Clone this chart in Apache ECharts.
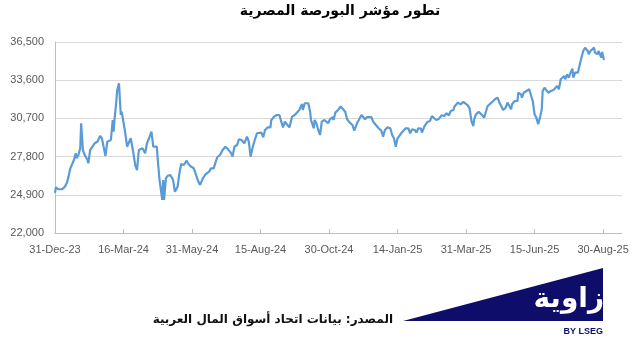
<!DOCTYPE html>
<html>
<head>
<meta charset="utf-8">
<script src="https://cdn.jsdelivr.net/npm/echarts@6/dist/echarts.min.js"></script>
<style>
html,body{margin:0;padding:0;background:#fff;}
#chart{width:642px;height:345px;}
</style>
</head>
<body>
<div id="chart"></div>
<script>
// ---- data ----
const titleText = 'تطور مؤشر البورصة المصرية';
const sourceText = 'المصدر: بيانات اتحاد أسواق المال العربية';
const yTicks = [22000, 24900, 27800, 30700, 33600, 36500];
const xTickDates = ['2023-12-31','2024-03-16','2024-05-31','2024-08-15','2024-10-30','2025-01-14','2025-03-31','2025-06-15','2025-08-30'];
const dates = [
'2023-12-31','2024-01-01','2024-01-04','2024-01-08','2024-01-11','2024-01-13','2024-01-15','2024-01-17','2024-01-19','2024-01-21',
'2024-01-23','2024-01-24','2024-01-26','2024-01-28','2024-01-29','2024-01-31','2024-02-02','2024-02-05','2024-02-06','2024-02-08',
'2024-02-10','2024-02-13','2024-02-16','2024-02-19','2024-02-21','2024-02-23','2024-02-25','2024-02-27','2024-02-29','2024-03-02',
'2024-03-04','2024-03-05','2024-03-06','2024-03-08','2024-03-09','2024-03-11','2024-03-12','2024-03-13','2024-03-14','2024-03-16',
'2024-03-18','2024-03-20','2024-03-22','2024-03-24','2024-03-25','2024-03-27','2024-03-29','2024-03-31','2024-04-02','2024-04-04',
'2024-04-06','2024-04-07','2024-04-09','2024-04-11','2024-04-14','2024-04-16','2024-04-17','2024-04-18','2024-04-20','2024-04-22',
'2024-04-23','2024-04-25','2024-04-27','2024-04-28','2024-04-29','2024-04-30','2024-05-02','2024-05-04','2024-05-07','2024-05-10',
'2024-05-12','2024-05-13','2024-05-15','2024-05-17','2024-05-19','2024-05-22','2024-05-24','2024-05-25','2024-05-27','2024-05-30',
'2024-06-02','2024-06-04','2024-06-07','2024-06-09','2024-06-12','2024-06-15','2024-06-19','2024-06-21','2024-06-24','2024-06-26',
'2024-06-28','2024-07-01','2024-07-04','2024-07-07','2024-07-10','2024-07-13','2024-07-15','2024-07-17','2024-07-20','2024-07-22',
'2024-07-25','2024-07-28','2024-07-31','2024-08-02','2024-08-04','2024-08-06','2024-08-08','2024-08-11','2024-08-13','2024-08-16',
'2024-08-18','2024-08-20','2024-08-23','2024-08-26','2024-08-27','2024-08-30','2024-09-02','2024-09-05','2024-09-07','2024-09-09',
'2024-09-11','2024-09-13','2024-09-16','2024-09-19','2024-09-22','2024-09-24','2024-09-27','2024-09-29','2024-09-30','2024-10-01',
'2024-10-03','2024-10-05','2024-10-07','2024-10-09','2024-10-10','2024-10-13','2024-10-14','2024-10-16','2024-10-18','2024-10-20',
'2024-10-22','2024-10-25','2024-10-27','2024-10-29','2024-10-31','2024-11-03','2024-11-04','2024-11-06','2024-11-09','2024-11-12',
'2024-11-14','2024-11-17','2024-11-19','2024-11-22','2024-11-25','2024-11-27','2024-11-30','2024-12-02','2024-12-05','2024-12-07',
'2024-12-09','2024-12-11','2024-12-13','2024-12-16','2024-12-18','2024-12-21','2024-12-24','2024-12-27','2024-12-29','2024-12-31',
'2025-01-03','2025-01-06','2025-01-08','2025-01-10','2025-01-12','2025-01-14','2025-01-16','2025-01-18','2025-01-20','2025-01-23',
'2025-01-26','2025-01-28','2025-01-30','2025-02-02','2025-02-04','2025-02-06','2025-02-09','2025-02-10','2025-02-11','2025-02-13',
'2025-02-16','2025-02-19','2025-02-21','2025-02-23','2025-02-26','2025-03-01','2025-03-04','2025-03-07','2025-03-09','2025-03-12',
'2025-03-14','2025-03-17','2025-03-18','2025-03-20','2025-03-22','2025-03-25','2025-03-28','2025-03-30','2025-04-02','2025-04-04',
'2025-04-06','2025-04-08','2025-04-09','2025-04-11','2025-04-14','2025-04-17','2025-04-20','2025-04-22','2025-04-24','2025-04-26',
'2025-04-29','2025-05-02','2025-05-05','2025-05-07','2025-05-09','2025-05-11','2025-05-14','2025-05-16','2025-05-18','2025-05-20',
'2025-05-21','2025-05-24','2025-05-27','2025-05-28','2025-05-31','2025-06-01','2025-06-03','2025-06-06','2025-06-09','2025-06-11',
'2025-06-13','2025-06-15','2025-06-17','2025-06-19','2025-06-21','2025-06-23','2025-06-24','2025-06-26','2025-06-28','2025-06-30',
'2025-07-03','2025-07-06','2025-07-08','2025-07-10','2025-07-12','2025-07-14','2025-07-16','2025-07-18','2025-07-19','2025-07-21',
'2025-07-23','2025-07-25','2025-07-27','2025-07-28','2025-07-30','2025-08-02','2025-08-04','2025-08-06','2025-08-08','2025-08-10',
'2025-08-13','2025-08-14','2025-08-16','2025-08-18','2025-08-20','2025-08-21','2025-08-24','2025-08-25','2025-08-27','2025-08-28',
'2025-08-29','2025-08-31'
];
const values = [
25050,25470,25320,25320,25520,25770,26280,26910,26850,27540,
28050,27670,27920,28430,30330,28300,27920,27540,27290,28300,
28170,28810,28930,29370,29190,29060,27850,28930,28850,29060,
30580,29690,30580,31970,32860,33370,32100,30960,31210,31080,
29570,28550,28600,29190,29310,28050,27160,26780,28300,28170,
28430,28550,28050,28810,29310,29690,29570,28550,28430,28550,
27540,26020,25010,24510,26020,24510,26150,26340,26400,26020,
25130,25260,25520,26530,27240,27160,27240,27490,27240,27030,
26910,26850,25900,25650,26150,26460,26660,26910,26910,27340,
27750,27920,28300,28550,28350,28100,27800,28550,28680,29110,
29060,28810,29310,28930,27800,28430,28930,29570,29520,29620,
29270,29820,30020,30020,30580,30830,30960,30960,30450,30020,
30450,30330,30020,30830,30960,30960,31340,31470,31790,31340,
31850,31790,31850,31210,30580,29950,30580,30330,29820,29440,
30450,30580,30710,30330,30630,30790,30580,31140,31340,31600,
31470,31210,30630,30380,30200,29770,30330,30580,30960,31040,
30630,30790,30710,30790,30450,30200,29950,29770,29310,29820,
30020,29950,29440,29190,28550,29190,29310,29570,29690,29950,
29950,29570,29870,29820,29620,29950,29920,29620,29490,30120,
30430,30500,30880,30940,30580,30680,30940,30880,31090,30940,
31260,31340,31590,31640,31900,31770,31950,31900,31690,31440,
30500,30120,30630,31010,31190,31010,30760,30760,31640,31770,
31950,32150,32280,31900,31640,31340,31510,31900,31640,31390,
31770,32020,32020,32650,32520,32280,32650,32780,32910,32960,
32020,31010,30760,30250,30760,31390,32780,33030,33160,32650,
32780,32860,32960,33160,32910,33670,33790,33920,33670,34050,
33790,34170,34480,33790,34170,34170,34300,35310,35820,36070,
35820,35570,35820,35950,36070,35690,35570,35820,35690,35310,
35740,35130
];
const xMin = '2023-12-31';
const xMax = '2025-09-20';

// ---- chart ----
const MONTHS = ['Jan','Feb','Mar','Apr','May','Jun','Jul','Aug','Sep','Oct','Nov','Dec'];
function ts(s){ const p = s.split('-').map(Number); return Date.UTC(p[0], p[1]-1, p[2]); }
function fmtDate(v){
  const d = new Date(v);
  return d.getUTCDate() + '-' + MONTHS[d.getUTCMonth()] + '-' + String(d.getUTCFullYear()).slice(2);
}
const tickTs = xTickDates.map(ts);
const chart = echarts.init(document.getElementById('chart'), null, {renderer:'canvas'});
const axisFont = {fontFamily:'Liberation Sans', fontSize:11, color:'#595959'};
chart.setOption({
  animation:false,
  backgroundColor:'#ffffff',
  grid:{left:55, right:20, top:42, bottom:112},
  xAxis:{
    type:'value',
    min:ts(xMin), max:ts(xMax),
    axisLine:{show:true, lineStyle:{color:'#bfbfbf', width:1}},
    axisTick:{show:true, inside:true, length:4, customValues:tickTs, lineStyle:{color:'#bfbfbf'}},
    axisLabel:Object.assign({customValues:tickTs, margin:11, formatter:fmtDate}, axisFont),
    splitLine:{show:false}
  },
  yAxis:{
    type:'value',
    min:yTicks[0], max:yTicks[yTicks.length-1], interval:2900,
    axisLine:{show:true, lineStyle:{color:'#bfbfbf', width:1}},
    axisTick:{show:false, customValues:yTicks},
    axisLabel:Object.assign({customValues:yTicks, margin:11, formatter:v=>v.toLocaleString('en-US')}, axisFont),
    splitLine:{show:true, lineStyle:{color:'#d9d9d9', width:1}}
  },
  series:[{
    type:'line',
    data:dates.map((d,i)=>[ts(d), values[i]]),
    showSymbol:false,
    symbol:'none',
    lineStyle:{color:'#5B9BD5', width:2.2},
    itemStyle:{color:'#5B9BD5'},
    smooth:false
  }],
  graphic:[
    {type:'text', x:340, y:11, style:{text:titleText, fontFamily:'DejaVu Sans', fontWeight:'bold', fontSize:14, fill:'#000', textAlign:'center', textVerticalAlign:'middle'}},
    {type:'text', x:393, y:320, style:{text:sourceText, fontFamily:'DejaVu Sans', fontWeight:'bold', fontSize:12, fill:'#111', textAlign:'right', textVerticalAlign:'middle'}},
    {type:'polygon', shape:{points:[[403,321],[603,268],[603,321]]}, style:{fill:'#0e0e6a'}},
    {type:'text', x:604, y:300, style:{text:'زاوية', fontFamily:'DejaVu Sans', fontWeight:'bold', fontSize:28, fill:'#ffffff', textAlign:'right', textVerticalAlign:'middle'}},
    {type:'text', x:603, y:332, style:{text:'BY LSEG', fontFamily:'Liberation Sans', fontWeight:'bold', fontSize:9, fill:'#0e0e6a', textAlign:'right', textVerticalAlign:'middle'}}
  ]
});
</script>
</body>
</html>
